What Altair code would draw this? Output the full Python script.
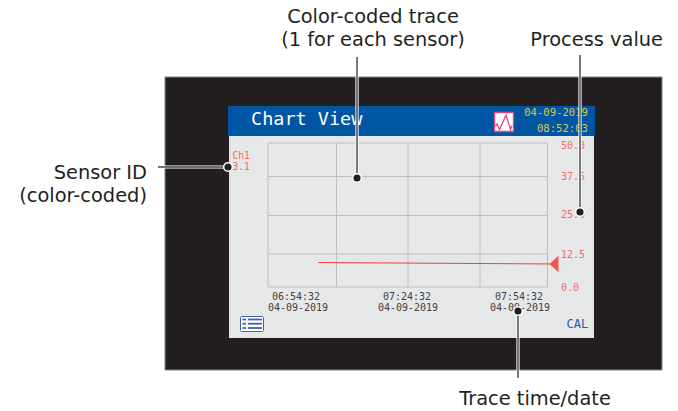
import altair as alt
import pandas as pd

DARK = "#231f20"
PANEL_EDGE = "#808285"
BLUE = "#0056a3"
SCREEN = "#e6e7e8"
GRID = "#bcbec0"
RED = "#ef4136"
LABEL_RED = "#f26d63"
YELLOW = "#d9cb3c"
MONO = "DejaVu Sans Mono"
SANS = "DejaVu Sans"

# trace, in the units of the axes
trace_minutes = [5.7, 68.4]      # minutes after 06:54:32
trace_values = [8.5, 8.0]
value_ticks = ["50.0", "37.5", "25.0", "12.5", "0.0"]
tick_y = [145.5, 177, 214.5, 254.5, 287.5]
time_labels = ["06:54:32", "07:24:32", "07:54:32"]
date_labels = ["04-09-2019", "04-09-2019", "04-09-2019"]
time_x = [296, 407, 519]
date_x = [298, 408, 520]
grid_x = [268, 336.5, 408, 480, 547.5]
grid_y = [143, 176.5, 215.5, 254, 287]

xs = alt.Scale(domain=[8, 670], nice=False, zero=False)
ys = alt.Scale(domain=[411, 8], nice=False, zero=False)
X = lambda f: alt.X(f, type="quantitative", scale=xs, axis=None)
Y = lambda f: alt.Y(f, type="quantitative", scale=ys, axis=None)
X2 = lambda f: alt.X2(f)
Y2 = lambda f: alt.Y2(f)


def rects(rows, **kw):
    df = pd.DataFrame(rows, columns=["x", "x2", "y", "y2"])
    return alt.Chart(df).mark_rect(**kw).encode(X("x"), X2("x2"), Y("y"), Y2("y2"))


def vrules(rows, **kw):
    df = pd.DataFrame(rows, columns=["x", "y", "y2"])
    return alt.Chart(df).mark_rule(**kw).encode(X("x"), Y("y"), Y2("y2"))


def hrules(rows, **kw):
    df = pd.DataFrame(rows, columns=["y", "x", "x2"])
    return alt.Chart(df).mark_rule(**kw).encode(Y("y"), X("x"), X2("x2"))


def texts(rows, **kw):
    df = pd.DataFrame(rows, columns=["x", "y", "t"])
    return alt.Chart(df).mark_text(baseline="middle", **kw).encode(X("x"), Y("y"), text="t:N")


def line(xv, yv, **kw):
    df = pd.DataFrame({"x": xv, "y": yv, "o": range(len(xv))})
    return alt.Chart(df).mark_line(**kw).encode(X("x"), Y("y"), order="o:Q")


# calibration of the screen's axes onto the picture
x_of_minute = lambda m: 297 + m * (408 - 297) / 30
y_of_value = lambda v: 287 - v * (287 - 143) / 50
trace_x = [x_of_minute(m) for m in trace_minutes]
trace_y = [y_of_value(v) for v in trace_values]

layers = [
    rects([[165, 662, 77, 370]], color=DARK, stroke=PANEL_EDGE, strokeWidth=1),
    rects([[229, 594, 136, 338]], color=SCREEN),
    rects([[228, 595, 106, 136]], color=BLUE),
    vrules([[g, grid_y[0], grid_y[-1]] for g in grid_x], color=GRID, strokeWidth=1),
    hrules([[g, grid_x[0], grid_x[-1]] for g in grid_y], color=GRID, strokeWidth=1),
    line(trace_x, trace_y, color=RED, strokeWidth=1),
]

# pointer triangle at the trace's end
tri = pd.DataFrame({"x": [549.5, 558.5], "y": [264, 255.5], "y2": [264, 272.5]})
layers.append(alt.Chart(tri).mark_area(color="#f15a4a").encode(X("x"), Y("y"), Y2("y2")))

layers += [
    texts([[251, 118.5, "Chart View"]], font=MONO, fontSize=18.5, color="white", align="left"),
    texts([[588, 112.5, "04-09-2019"], [588, 128.5, "08:52:03"]], font=MONO, fontSize=10.6, color=YELLOW, align="right"),
    texts([[232.5, 156, "Ch1"], [232.5, 167, "3.1"]], font=MONO, fontSize=9.6, color=LABEL_RED, align="left"),
    texts([[561, y, t] for t, y in zip(value_ticks, tick_y)], font=MONO, fontSize=10, color=LABEL_RED, align="left"),
    texts([[x, 296.5, t] for x, t in zip(time_x, time_labels)], font=MONO, fontSize=10, color="#414042", align="center"),
    texts([[x, 307.5, t] for x, t in zip(date_x, date_labels)], font=MONO, fontSize=10, color="#414042", align="center"),
    texts([[566.5, 323.5, "CAL"]], font=MONO, fontSize=12, color="#1c5ea8", align="left"),
    # chart icon
    rects([[494.5, 513.5, 112.5, 131.5]], color="white", stroke="#e0457b", strokeWidth=1.3),
    line([495.5, 497, 499.5, 502, 506, 510.5, 512], [126, 124, 129.5, 124, 115, 129.5, 125.5], color="#e8446e", strokeWidth=1.3),
    # list icon
    rects([[240.5, 263.5, 316.5, 331.5]], color="white", stroke="#3f5fb0", strokeWidth=1, cornerRadius=1.5),
    hrules([[319.5, 242.5, 246], [323.7, 242.5, 246], [328, 242.5, 246]], color="#3f5fb0", strokeWidth=1.8),
    hrules([[319.5, 247.8, 262], [323.7, 247.8, 262], [328, 247.8, 262]], color="#3f5fb0", strokeWidth=1.8),
]

# leader halos, then leaders, then dots
v_lead = [[357, 57, 178], [580, 55, 212], [518, 311, 378]]
h_lead = [[167, 158, 228]]
dots = pd.DataFrame({"x": [357, 580, 518, 228], "y": [178, 212, 311, 167]})
layers += [
    vrules(v_lead, color="white", strokeWidth=3.2),
    hrules(h_lead, color="white", strokeWidth=3.2),
    vrules(v_lead, color="#414042", strokeWidth=1.4),
    hrules(h_lead, color="#414042", strokeWidth=1.4),
    alt.Chart(dots).mark_point(filled=True, color=DARK, stroke="white", strokeWidth=1.5, size=75, opacity=1).encode(X("x"), Y("y")),
    texts([[373, 16.5, "Color-coded trace"], [373, 39.5, "(1 for each sensor)"]], font=SANS, fontSize=19.4, color=DARK, align="center"),
    texts([[663, 40, "Process value"]], font=SANS, fontSize=19.4, color=DARK, align="right"),
    texts([[147, 173, "Sensor ID"], [147, 196, "(color-coded)"]], font=SANS, fontSize=19.4, color=DARK, align="right"),
    texts([[535, 398.5, "Trace time/date"]], font=SANS, fontSize=19.4, color=DARK, align="center"),
]

chart = (
    alt.layer(*layers)
    .properties(width=662, height=403, padding=0, autosize=alt.AutoSizeParams(type="none"), background="white")
    .configure_view(stroke=None)
)
chart.save("out.html", embed_options={"renderer": "svg", "actions": False})
